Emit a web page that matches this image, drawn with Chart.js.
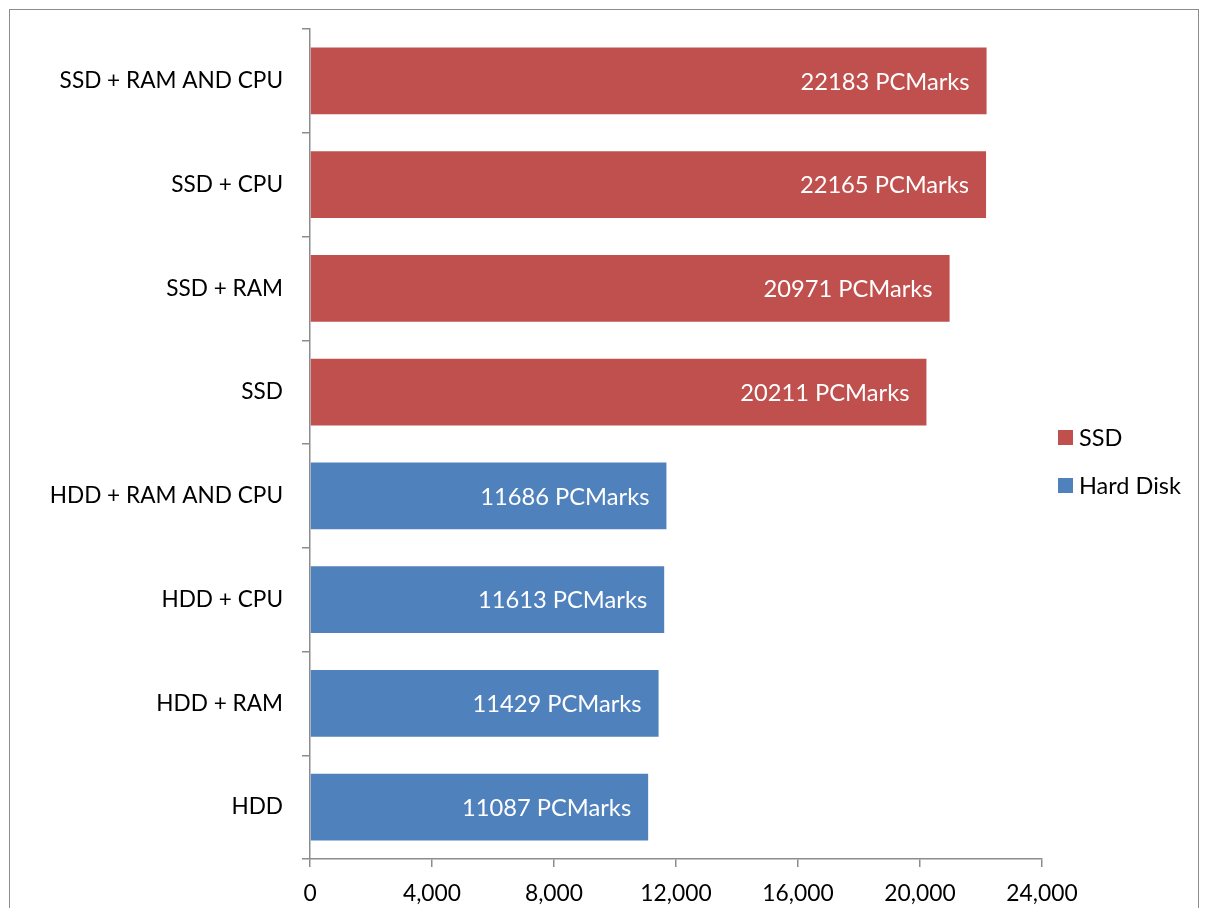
<!DOCTYPE html>
<html>
<head>
<meta charset="utf-8">
<script src="https://cdn.jsdelivr.net/npm/chart.js@4.4.0/dist/chart.umd.min.js"></script>
<style>
  html, body { margin: 0; padding: 0; background: #fff; width: 1205px; height: 908px; overflow: hidden; }
  #frame { position: absolute; left: 9px; top: 9px; width: 1190px; height: 940px; border: 1.5px solid #8c8c8c; box-sizing: border-box; }
  #wrap { position: absolute; left: 0; top: 0; width: 1205px; height: 908px; }
</style>
</head>
<body>
<div id="frame"></div>
<div id="wrap"><canvas id="c" width="1205" height="908"></canvas></div>
<script>
const categories = ["SSD + RAM AND CPU", "SSD + CPU", "SSD + RAM", "SSD", "HDD + RAM AND CPU", "HDD + CPU", "HDD + RAM", "HDD"];
const ssdValues = [22183, 22165, 20971, 20211, null, null, null, null];
const hddValues = [null, null, null, null, 11686, 11613, 11429, 11087];
const seriesNames = ["SSD", "Hard Disk"];
const seriesColors = ["#C0504D", "#4F81BD"];
const labelSuffix = " PCMarks";
const xMin = 0, xMax = 24000, xStep = 4000;

const FONT = "Lato, 'Open Sans', sans-serif";

const valueLabels = {
  id: 'valueLabels',
  afterDatasetsDraw(chart) {
    const ctx = chart.ctx;
    ctx.save();
    ctx.font = "23.7px " + FONT;
    ctx.fillStyle = "#ffffff";
    ctx.textAlign = "right";
    ctx.textBaseline = "middle";
    chart.data.datasets.forEach((ds, di) => {
      const meta = chart.getDatasetMeta(di);
      meta.data.forEach((bar, i) => {
        const v = ds.data[i];
        if (v === null || v === undefined) return;
        ctx.fillText(v + labelSuffix, bar.x - 17, bar.y + 1);
      });
    });
    ctx.restore();
  }
};

const sideLegend = {
  id: 'sideLegend',
  afterDraw(chart) {
    const ctx = chart.ctx;
    const a = chart.chartArea;
    ctx.save();
    ctx.font = "23.5px " + FONT;
    ctx.textBaseline = "middle";
    ctx.textAlign = "left";
    chart.data.datasets.forEach((ds, i) => {
      const cy = 437 + i * 48;
      const bx = a.right + 16;
      ctx.fillStyle = ds.backgroundColor;
      ctx.fillRect(bx, cy - 7, 15, 15);
      ctx.fillStyle = "#000";
      ctx.fillText(ds.label, bx + 21, cy + 1);
    });
    ctx.restore();
  }
};

new Chart(document.getElementById('c'), {
  type: 'bar',
  data: {
    labels: categories,
    datasets: [
      { label: seriesNames[0], data: ssdValues, backgroundColor: seriesColors[0], borderWidth: 0 },
      { label: seriesNames[1], data: hddValues, backgroundColor: seriesColors[1], borderWidth: 0 }
    ]
  },
  options: {
    indexAxis: 'y',
    responsive: false,
    animation: false,
    devicePixelRatio: 1,
    barPercentage: 0.645,
    categoryPercentage: 1.0,
    layout: { padding: { top: 29, right: 163, left: 0, bottom: 0 } },
    plugins: { legend: { display: false }, tooltip: { enabled: false } },
    scales: {
      x: {
        stacked: true,
        min: xMin, max: xMax,
        afterFit(scale) { scale.height = 49; scale.paddingTop = 0; scale.paddingBottom = 0; },
        ticks: {
          stepSize: xStep,
          color: "#000",
          font: { size: 22.8, family: FONT },
          padding: 13,
          callback: (v) => v.toLocaleString('en-US')
        },
        grid: { drawOnChartArea: false, drawTicks: true, tickLength: 8, color: "#8c8c8c", lineWidth: 1.5 },
        border: { display: true, color: "#8c8c8c", width: 1.5 }
      },
      y: {
        stacked: true,
        afterFit(scale) { scale.width = 310; scale.paddingTop = 0; scale.paddingBottom = 0; },
        ticks: {
          color: "#000",
          font: { size: 22.6, family: FONT },
          padding: 19
        },
        grid: { offset: true, drawOnChartArea: false, drawTicks: true, tickLength: 8, color: "#8c8c8c", lineWidth: 1.5 },
        border: { display: true, color: "#8c8c8c", width: 1.5 }
      }
    }
  },
  plugins: [valueLabels, sideLegend]
});
</script>
</body>
</html>
